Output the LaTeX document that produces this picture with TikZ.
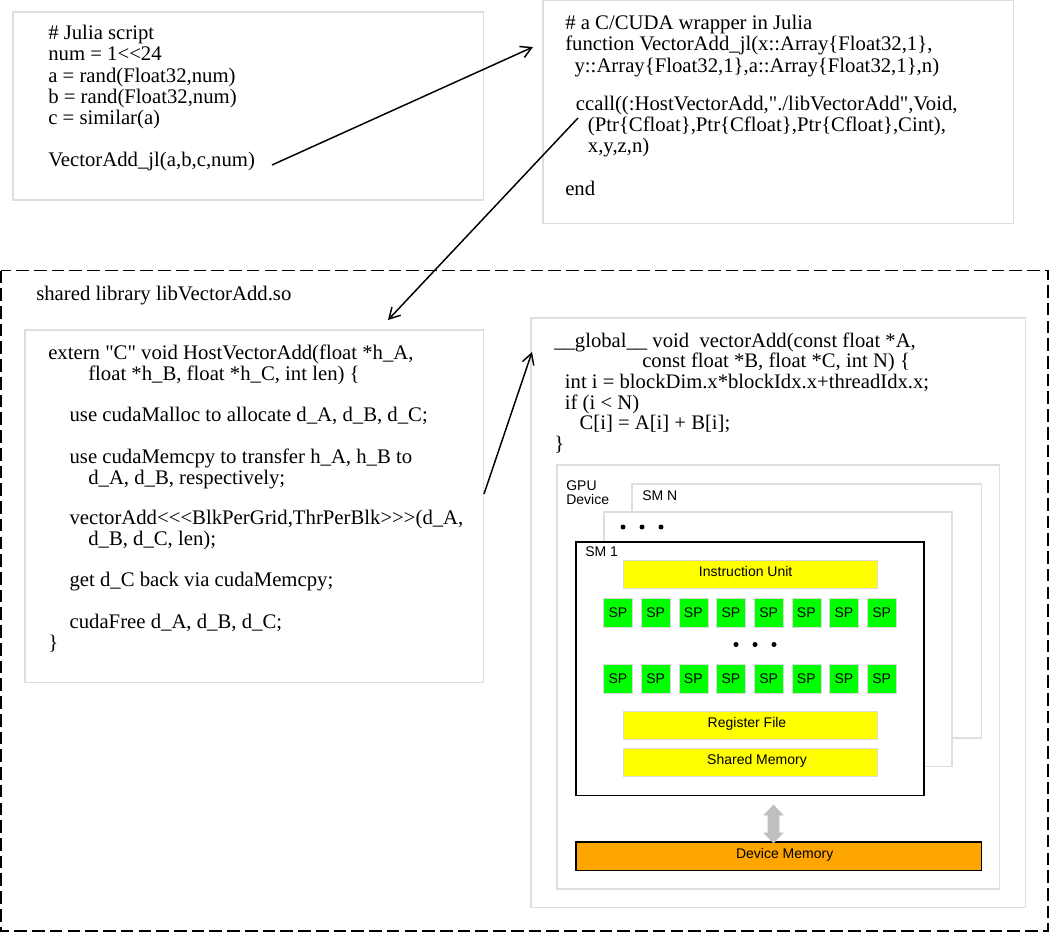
\documentclass[tikz,border=0pt]{standalone}
\usepackage{fontspec}
\setmainfont{Liberation Serif}[Ligatures=TeXOff]
\setsansfont{Liberation Sans}
\usetikzlibrary{arrows.meta, positioning, calc}
\definecolor{unityellow}{RGB}{255,255,0}
\definecolor{spgreen}{RGB}{0,255,0}
\definecolor{memorange}{RGB}{255,165,0}
\newcommand{\labelfont}{\fontsize{10.5}{10.5}\selectfont\sffamily}
\tikzset{
    panel/.style={
        rectangle, draw=black!13, line width=0.9pt,
        fill=white, anchor=north west, outer sep=0pt
    },
    code/.style={
        anchor=north west, align=left, inner sep=0pt,
        font=\fontsize{15.55}{15.9}\selectfont
    },
    smbox/.style={
        rectangle, draw=black, line width=1.2pt,
        fill=white, anchor=north west, outer sep=0pt
    },
    label/.style={
        anchor=north west, align=left, inner sep=0pt,
        font=\labelfont
    },
    unit/.style={
        rectangle, draw=black!15, line width=0.6pt,
        fill=unityellow, minimum width=191pt, minimum height=21.5pt,
        anchor=north west, inner sep=0pt, outer sep=0pt, font=\labelfont
    },
    spbox/.style={
        rectangle, draw=black!15, line width=0.4pt,
        fill=spgreen, minimum width=21.7pt, minimum height=21.7pt,
        anchor=north west, inner sep=0pt, outer sep=0pt, font=\labelfont
    },
    dotdot/.style={circle, fill=black, inner sep=0pt, minimum size=3.75pt},
    wire/.style={draw=black, line width=1.1pt, -{Straight Barb[length=8pt,width=9pt]}}
}
\begin{document}
\begin{tikzpicture}[x=0.75pt, y=-0.75pt]
\useasboundingbox (0,0) rectangle (1050,932);

% Top boxes
\node[panel, minimum width=353pt, minimum height=141pt] (julia_box) at (13,12) {};
\node[panel, minimum width=353pt, minimum height=167.5pt] (wrapper_box) at (543,0) {};

% Shared library
\draw[dash pattern=on 9.5pt off 3.8pt, line width=1pt] (1,270.5) rectangle (1048,931);
\node[code] (lib_label) at (36,286) {shared library libVectorAdd.so};

\node[panel, minimum width=344pt, minimum height=264.5pt] (host_box) at (25,330) {};
\node[panel, minimum width=371pt, minimum height=442pt] (kernel_box) at (531,318) {};

% GPU device
\node[panel, minimum width=332pt, minimum height=318pt] (gpu_box) at (557,465) {};
\node[panel, minimum width=262pt, minimum height=190.5pt] (smn_box) at (632,484) {};
\node[panel, minimum width=261pt, minimum height=191pt] (smdots_box) at (604,512) {};
\node[smbox, minimum width=261pt, minimum height=190pt] (sm1_box) at (576,542) {};

\node[label] (gpu_label) at (566,480) {GPU\\Device};
\node[label] (smn_label) at (642,490) {SM N};
\node[label] (sm1_label) at (585,546) {SM 1};

\node[dotdot] (dot_a) at (623,527) {};
\node[dotdot] (dot_b) at (642,527) {};
\node[dotdot] (dot_c) at (661,527) {};

% Units
\node[unit] (instr_unit) at (623,560) {\hspace*{-7pt}\raisebox{4.5pt}{Instruction Unit}};
\node[unit] (reg_file) at (623,711) {\hspace*{-5pt}\raisebox{4.5pt}{Register File}};
\node[unit] (shared_mem) at (623,748) {\hspace*{10pt}\raisebox{4.5pt}{Shared Memory}};

% SP rows
\foreach \i in {0,...,7} {
    \node[spbox] (sp_top\i) at ({603.5+37.67*\i},598) {SP};
    \node[spbox] (sp_bot\i) at ({603.5+37.67*\i},664) {SP};
}
\node[dotdot] (dot_d) at (736,644.5) {};
\node[dotdot] (dot_e) at (755,644.5) {};
\node[dotdot] (dot_f) at (774,644.5) {};

% Device memory
\node[rectangle, draw=black, line width=1pt, fill=memorange, minimum width=304pt, minimum height=21.5pt,
    anchor=north west, inner sep=0pt, outer sep=0pt, font=\labelfont] (dev_mem) at (576,842) {\hspace*{9pt}\raisebox{4.5pt}{Device Memory}};

\draw[draw=black!25, fill=black!25] (773.5,805) -- (783,815) -- (779,815) -- (779,833) -- (783,833)
    -- (773.5,843) -- (764,833) -- (768,833) -- (768,815) -- (764,815) -- cycle;

% Code
\node[code] (julia_code) at (48,25) {\# Julia script\\
num = 1<{}<24\\
a = rand(Float32,num)\\
b = rand(Float32,num)\\
c = similar(a)\\[15.9pt]
VectorAdd\_jl(a,b,c,num)};

\node[code] (wrapper_code) at (565,15) {\# a C/CUDA wrapper in Julia\\
function VectorAdd\_jl(x::Array\{Float32,1\},\\
\hspace*{7pt}y::Array\{Float32,1\},a::Array\{Float32,1\},n)\\[13pt]
\hspace*{8pt}ccall((:HostVectorAdd,"./libVectorAdd",Void,\\
\hspace*{17pt}(Ptr\{Cfloat\},Ptr\{Cfloat\},Ptr\{Cfloat\},Cint),\\
\hspace*{17pt}x,y,z,n)\\[15.9pt]
end};

\node[code] (host_code) at (48,345) {extern "C" void HostVectorAdd(float *h\_A,\\[-0.5pt]
\hspace*{30pt}float *h\_B, float *h\_C, int len) \{\\[14.8pt]
\hspace*{16pt}use cudaMalloc to allocate d\_A, d\_B, d\_C;\\[15.6pt]
\hspace*{16pt}use cudaMemcpy to transfer h\_A, h\_B to\\
\hspace*{30pt}d\_A, d\_B, respectively;\\[14.1pt]
\hspace*{16pt}vectorAdd<{}<{}<BlkPerGrid,ThrPerBlk>{}>{}>(d\_A,\\
\hspace*{30pt}d\_B, d\_C, len);\\[14.8pt]
\hspace*{16pt}get d\_C back via cudaMemcpy;\\[15.6pt]
\hspace*{16pt}cudaFree d\_A, d\_B, d\_C;\\
\}};

\node[code, font=\fontsize{15.5}{15.5}\selectfont] (kernel_code) at (554,332.5) {\_\_global\_\_ void~ vectorAdd(const float *A,\\
\hspace*{66pt}const float *B, float *C, int N) \{\\
\hspace*{8pt}int i = blockDim.x*blockIdx.x+threadIdx.x;\\
\hspace*{8pt}if (i < N)\\
\hspace*{19pt}C[i] = A[i] + B[i];\\
\}};

% Connections
\coordinate (call_start) at (272,165);
\coordinate (call_end) at (533,47);
\coordinate (ccall_start) at (578,118);
\coordinate (ccall_end) at (388,320);
\coordinate (launch_start) at (484,494);
\coordinate (launch_end) at (532,352);
\draw[wire] (call_start) -- (call_end);
\draw[wire] (ccall_start) -- (ccall_end);
\draw[wire] (launch_start) -- (launch_end);

\end{tikzpicture}
\end{document}
